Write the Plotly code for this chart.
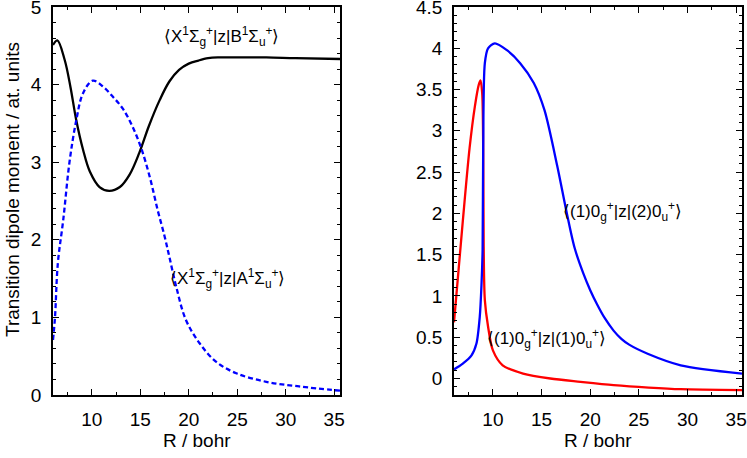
import plotly.graph_objects as go

# left panel: X-B (solid black) and X-A (dashed blue)
r_xb = [6.0, 6.45, 7.2, 7.8, 8.4, 9.1, 9.8, 10.8, 11.8, 12.9, 13.9, 14.9, 15.9, 17.0, 18.0,
        19.0, 20.0, 21.0, 22.0, 23.0, 25.0, 28.0, 31.0, 35.6]
d_xb = [4.51, 4.57, 4.32, 3.97, 3.54, 3.16, 2.88, 2.68, 2.63, 2.68, 2.84, 3.12, 3.47, 3.80, 4.04,
        4.19, 4.27, 4.31, 4.34, 4.35, 4.35, 4.35, 4.34, 4.33]

r_xa = [6.0, 6.2, 6.5, 7.05, 7.7, 8.4, 9.1, 10.1, 11.2, 12.2, 13.2, 14.2, 15.1, 16.0, 16.8,
        17.5, 18.0, 18.7, 19.7, 21.1, 22.8, 24.9, 28.0, 31.4, 35.6]
d_xa = [0.71, 0.99, 1.70, 2.25, 3.00, 3.54, 3.89, 4.05, 3.97, 3.84, 3.69, 3.46, 3.18, 2.80, 2.38,
        2.05, 1.78, 1.40, 0.97, 0.67, 0.43, 0.28, 0.17, 0.11, 0.055]

# right panel: (1)0g+ -> (1)0u+ (red) and (1)0g+ -> (2)0u+ (blue)
r_11 = [6.0, 6.9, 7.6, 8.15, 8.55, 8.73, 8.9, 9.0, 9.05, 9.17, 9.5, 10.0, 11.0, 13.1,
        15.9, 19.0, 22.4, 26.0, 29.3, 35.6]
d_11 = [0.68, 1.90, 2.79, 3.30, 3.56, 3.61, 3.45, 2.80, 1.60, 0.95, 0.63, 0.34, 0.16, 0.06,
        0.00, -0.04, -0.08, -0.11, -0.13, -0.14]

r_12 = [6.0, 6.9, 7.8, 8.3, 8.65, 8.83, 8.94, 9.0, 9.17, 9.5, 10.2, 11.4, 12.8, 14.2, 15.3,
        16.6, 17.6, 18.4, 19.3, 20.0, 20.7, 21.5, 22.4, 23.2, 24.0, 25.9, 29.3, 35.6]
d_12 = [0.11, 0.18, 0.28, 0.42, 0.75, 1.15, 1.56, 2.79, 3.82, 4.00, 4.06, 3.98, 3.82, 3.58, 3.25,
        2.58, 2.00, 1.58, 1.27, 1.07, 0.90, 0.73, 0.58, 0.48, 0.41, 0.30, 0.16, 0.06]

x_ticks = [10, 15, 20, 25, 30, 35]
left_ticks = [0, 1, 2, 3, 4, 5]
right_ticks = [0, 0.5, 1, 1.5, 2, 2.5, 3, 3.5, 4, 4.5]

FONT = "Liberation Sans, Arial, sans-serif"
W, H = 747, 458

fig = go.Figure()
fig.add_trace(go.Scatter(x=r_xb, y=d_xb, mode="lines", line=dict(color="black", width=2.3, shape="spline", smoothing=1.0),
                         xaxis="x", yaxis="y"))
fig.add_trace(go.Scatter(x=r_xa, y=d_xa, mode="lines",
                         line=dict(color="#0000ff", width=2.3, dash="5px,3px", shape="spline", smoothing=1.0),
                         xaxis="x", yaxis="y"))
fig.add_trace(go.Scatter(x=r_11, y=d_11, mode="lines", line=dict(color="#ff0000", width=2.3, shape="spline", smoothing=0.8),
                         xaxis="x2", yaxis="y2"))
fig.add_trace(go.Scatter(x=r_12, y=d_12, mode="lines", line=dict(color="#0000ff", width=2.3, shape="spline", smoothing=0.8),
                         xaxis="x2", yaxis="y2"))

ax = dict(showgrid=False, zeroline=False, showline=True, linecolor="black", linewidth=1.6, mirror="allticks",
          ticks="inside", tickcolor="black", ticklen=6, tickwidth=1.2, ticklabelstandoff=6,
          ticklabeloverflow="allow", automargin=False,
          tickfont=dict(family=FONT, size=19, color="black"),
          minor=dict(ticks="inside", ticklen=3, tickcolor="black", tickwidth=1))

xd1 = [53 / W, 340 / W]
xd2 = [454 / W, 742 / W]
yd = [1 - 395 / H, 1 - 7 / H]

fig.update_layout(
    width=W, height=H, margin=dict(l=0, r=0, t=0, b=0),
    plot_bgcolor="white", paper_bgcolor="white", showlegend=False,
    font=dict(family=FONT, size=19, color="black"),
    xaxis=dict(ax, domain=xd1, range=[6, 35.6], tickvals=x_ticks, minor=dict(ax["minor"], dtick=2.5), anchor="y"),
    yaxis=dict(ax, domain=yd, range=[0, 5.0001], tickvals=left_ticks, minor=dict(ax["minor"], dtick=0.2), anchor="x"),
    xaxis2=dict(ax, domain=xd2, range=[6, 35.6], tickvals=x_ticks, minor=dict(ax["minor"], dtick=2.5), anchor="y2"),
    yaxis2=dict(ax, domain=yd, range=[-0.2, 4.5001], tickvals=right_ticks, minor=dict(ax["minor"], dtick=0.1), anchor="x2"),
)

lab = dict(showarrow=False, font=dict(family=FONT, size=17, color="black"), xanchor="left", yanchor="middle")
fig.add_annotation(lab, x=17.2, y=4.62, xref="x", yref="y",
                   text="⟨X<sup>1</sup>Σ<sub>g</sub><sup>+</sup>|z|B<sup>1</sup>Σ<sub>u</sub><sup>+</sup>⟩")
fig.add_annotation(lab, x=17.9, y=1.5, xref="x", yref="y",
                   text="⟨X<sup>1</sup>Σ<sub>g</sub><sup>+</sup>|z|A<sup>1</sup>Σ<sub>u</sub><sup>+</sup>⟩")
fig.add_annotation(lab, x=17.0, y=2.02, xref="x2", yref="y2",
                   text="⟨(1)0<sub>g</sub><sup>+</sup>|z|(2)0<sub>u</sub><sup>+</sup>⟩")
fig.add_annotation(lab, x=9.15, y=0.48, xref="x2", yref="y2",
                   text="⟨(1)0<sub>g</sub><sup>+</sup>|z|(1)0<sub>u</sub><sup>+</sup>⟩")

# axis titles
tit = dict(showarrow=False, font=dict(family=FONT, size=19, color="black"), xref="paper", yref="paper",
           xanchor="center", yanchor="middle")
fig.add_annotation(tit, x=197 / W, y=1 - 440 / H, text="R / bohr")
fig.add_annotation(tit, x=598 / W, y=1 - 440 / H, text="R / bohr")
fig.add_annotation(tit, x=13 / W, y=1 - 190 / H, text="Transition dipole moment / at. units", textangle=-90)

# the page body has a default 8px margin; drop it so the figure sits at the window corner
fig.write_html("out.html", config={"displayModeBar": False},
               post_script="document.body.style.margin='0';")
